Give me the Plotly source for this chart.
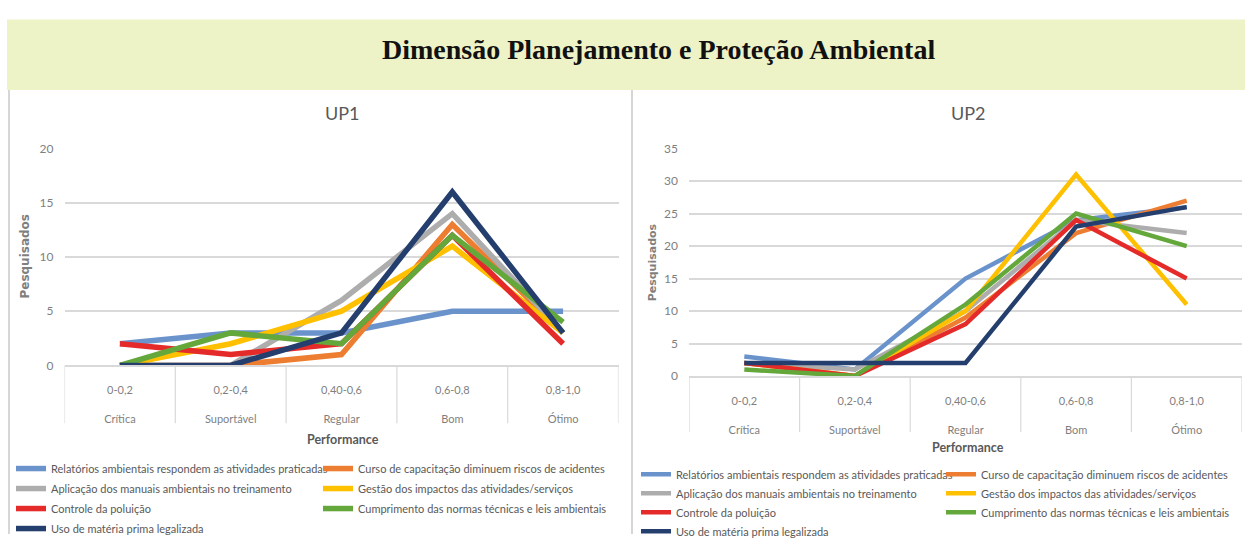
import plotly.graph_objects as go

# ---------------- data ----------------
FAIXAS = ["0-0,2", "0,2-0,4", "0,40-0,6", "0,6-0,8", "0,8-1,0"]
NIVEIS = ["Crítica", "Suportável", "Regular", "Bom", "Ótimo"]

SERIES = [
    "Relatórios ambientais respondem as atividades praticadas",
    "Curso de capacitação diminuem riscos de acidentes",
    "Aplicação dos manuais ambientais no treinamento",
    "Gestão dos impactos das atividades/serviços",
    "Controle da poluição",
    "Cumprimento das normas técnicas e leis ambientais",
    "Uso de matéria prima legalizada",
]
COLORS = ["#6A93CC", "#ED7D31", "#ADADAD", "#FFC000", "#E52A2A", "#64A83C", "#243F6E"]

UP1_relatorios = [2, 3, 3, 5, 5]
UP1_curso = [0, 0, 1, 13, 3]
UP1_aplicacao = [0, 0, 6, 14, 3]
UP1_gestao = [0, 2, 5, 11, 3]
UP1_controle = [2, 1, 2, 12, 2]
UP1_cumprimento = [0, 3, 2, 12, 4]
UP1_uso = [0, 0, 3, 16, 3]

UP2_relatorios = [3, 1, 15, 24, 26]
UP2_curso = [2, 0, 9, 22, 27]
UP2_aplicacao = [2, 1, 10, 24, 22]
UP2_gestao = [2, 0, 10, 31, 11]
UP2_controle = [2, 0, 8, 24, 15]
UP2_cumprimento = [1, 0, 11, 25, 20]
UP2_uso = [2, 2, 2, 23, 26]

UP1 = [UP1_relatorios, UP1_curso, UP1_aplicacao, UP1_gestao, UP1_controle, UP1_cumprimento, UP1_uso]
UP2 = [UP2_relatorios, UP2_curso, UP2_aplicacao, UP2_gestao, UP2_controle, UP2_cumprimento, UP2_uso]

TITLE = "Dimensão Planejamento e Proteção Ambiental"

# ---------------- layout helpers ----------------
W, H = 1245, 546
def px(x):
    return x / W
def py(y):
    return 1 - y / H

AX_FONT = "Lato, Liberation Sans, sans-serif"
GRID = "#D9D9D9"
TXT = "#7F7F7F"

fig = go.Figure()

# column assignment of legend entries (two columns per panel)
left_cols = ["legend", "legend2", "legend", "legend2", "legend", "legend2", "legend"]
right_cols = ["legend3", "legend4", "legend3", "legend4", "legend3", "legend4", "legend3"]

for i, name in enumerate(SERIES):
    fig.add_trace(go.Scatter(
        x=NIVEIS, y=UP1[i], name=name, mode="lines",
        line=dict(color=COLORS[i], width=5.5),
        xaxis="x", yaxis="y", legend=left_cols[i], legendgroup="a%d" % i,
    ))
for i, name in enumerate(SERIES):
    fig.add_trace(go.Scatter(
        x=NIVEIS, y=UP2[i], name=name, mode="lines",
        line=dict(color=COLORS[i], width=4.5),
        xaxis="x2", yaxis="y2", legend=right_cols[i], legendgroup="b%d" % i,
    ))

ticktext = ["%s<br><br>%s" % (f, n) for f, n in zip(FAIXAS, NIVEIS)]

def xaxis(domain, anchor):
    return dict(
        domain=domain, anchor=anchor, type="category",
        categoryorder="array", categoryarray=NIVEIS,
        range=[-0.5, len(NIVEIS) - 0.5],
        tickvals=NIVEIS, ticktext=ticktext,
        tickfont=dict(family=AX_FONT, size=11, color=TXT),
        showgrid=False, showline=True, linecolor=GRID, linewidth=1.5,
        ticks="", ticklabelstandoff=14, zeroline=False, fixedrange=True,
    )

def yaxis(domain, anchor, top):
    return dict(
        domain=domain, anchor=anchor, range=[0, top], dtick=5,
        tickfont=dict(family=AX_FONT, size=12, color=TXT),
        showgrid=True, gridcolor=GRID, gridwidth=1.5,
        zeroline=False, showline=False, ticks="", ticklabelstandoff=10,
    )

fig.update_layout(
    width=W, height=H,
    margin=dict(l=0, r=0, t=0, b=0),
    paper_bgcolor="white", plot_bgcolor="white",
    xaxis=xaxis([px(64.5), px(618.5)], "y"),
    yaxis=yaxis([py(371), py(146)], "x", 20),
    xaxis2=xaxis([px(689), px(1242)], "y2"),
    yaxis2=yaxis([py(382), py(146)], "x2", 35),
)

def legend_cfg(x, y, gap):
    return dict(
        x=px(x), y=py(y), xanchor="left", yanchor="top",
        orientation="v", bgcolor="rgba(0,0,0,0)", borderwidth=0,
        font=dict(family=AX_FONT, size=11, color="#595959"),
        tracegroupgap=gap, itemclick=False, itemdoubleclick=False,
    )

fig.update_layout(
    legend=legend_cfg(11, 463, 1),
    legend2=legend_cfg(318, 463, 1),
    legend3=legend_cfg(636, 469, 0),
    legend4=legend_cfg(941, 469, 0),
)

shapes = []
# title band
shapes.append(dict(type="rect", xref="paper", yref="paper",
                   x0=px(7), x1=1, y0=py(85), y1=py(12),
                   fillcolor="#EEF2C7", line=dict(width=0), layer="below"))
# panel borders
for xb in (9, 632):
    shapes.append(dict(type="line", xref="paper", yref="paper",
                       x0=px(xb), x1=px(xb), y0=py(85), y1=0,
                       line=dict(color="#D6D6D6", width=2)))
# category dividers under the x axes
for k in range(len(NIVEIS) + 1):
    shapes.append(dict(type="line", xref="x", yref="paper",
                       x0=k - 0.5, x1=k - 0.5, y0=py(371), y1=py(431),
                       line=dict(color=GRID, width=1.2)))
    shapes.append(dict(type="line", xref="x2", yref="paper",
                       x0=k - 0.5, x1=k - 0.5, y0=py(382), y1=py(440),
                       line=dict(color=GRID, width=1.2)))
fig.update_layout(shapes=shapes)

ann = []
ann.append(dict(text="<b>%s</b>" % TITLE, x=px(658), y=py(43), xref="paper", yref="paper",
                showarrow=False, xanchor="center", yanchor="middle",
                font=dict(family="Liberation Serif, serif", size=28, color="#111111"),
                ))
for t, xc, yc in (("UP1", 343, 109), ("UP2", 968, 109)):
    ann.append(dict(text=t, x=px(xc), y=py(yc), xref="paper", yref="paper",
                    showarrow=False, xanchor="center", yanchor="middle",
                    font=dict(family=AX_FONT, size=18, color="#595959")))
for xc, yc in ((343, 448), (968, 456)):
    ann.append(dict(text="<b>Performance</b>", x=px(xc), y=py(yc), xref="paper", yref="paper",
                    showarrow=False, xanchor="center", yanchor="middle",
                    font=dict(family=AX_FONT, size=12.5, color="#595959")))
for xc, yc, s in ((25, 258, 12), (652, 264, 11)):
    ann.append(dict(text="<b>Pesquisados</b>", x=px(xc), y=py(yc), xref="paper", yref="paper",
                    showarrow=False, xanchor="center", yanchor="middle", textangle=-90,
                    font=dict(family="DejaVu Sans, sans-serif", size=s, color=TXT)))
fig.update_layout(annotations=ann)

fig.write_html("out.html")
